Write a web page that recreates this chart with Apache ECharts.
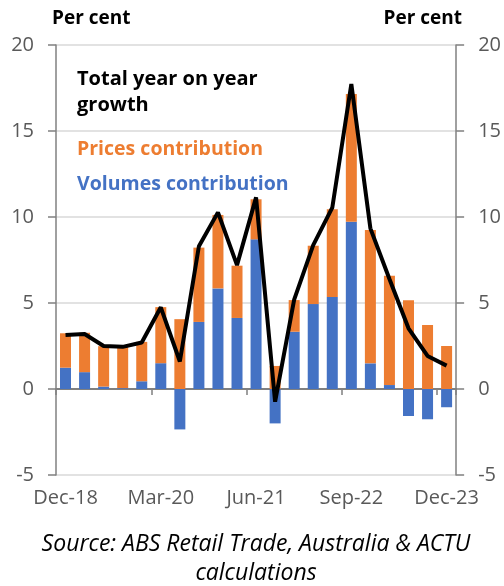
<!DOCTYPE html>
<html>
<head>
<meta charset="utf-8">
<script src="https://cdn.jsdelivr.net/npm/echarts@6/dist/echarts.min.js"></script>
<style>
  html, body { margin: 0; padding: 0; background: #fff; }
  #main { width: 504px; height: 586px; }
</style>
</head>
<body>
<div id="main"></div>
<script>
// quarters Dec-18 .. Dec-23
var quarters = ['Dec-18', 'Mar-19', 'Jun-19', 'Sep-19', 'Dec-19', 'Mar-20', 'Jun-20', 'Sep-20', 'Dec-20', 'Mar-21',
  'Jun-21', 'Sep-21', 'Dec-21', 'Mar-22', 'Jun-22', 'Sep-22', 'Dec-22', 'Mar-23', 'Jun-23', 'Sep-23', 'Dec-23'];
var volumes = [1.24, 0.98, 0.14, 0.05, 0.45, 1.5, -2.35, 3.9, 5.85, 4.13, 8.7, -2.0, 3.33, 4.94, 5.35, 9.73, 1.49, 0.23, -1.57, -1.76, -1.06];
var prices = [2.0, 2.29, 2.35, 2.4, 2.29, 3.26, 4.06, 4.32, 4.27, 3.04, 2.33, 1.34, 1.84, 3.39, 5.1, 7.42, 7.75, 6.36, 5.16, 3.72, 2.5];
var totalGrowth = [3.14, 3.2, 2.5, 2.45, 2.7, 4.75, 1.6, 8.3, 10.27, 7.2, 11.14, -0.74, 5.2, 8.37, 10.54, 17.73, 9.34, 6.4, 3.53, 1.92, 1.36];

var chart = echarts.init(document.getElementById('main'), null, { renderer: 'canvas' });

var font = 'Open Sans, Liberation Sans, sans-serif';
var gray = '#808080';

function yAxis(pos) {
  return {
    type: 'value', position: pos, min: -5, max: 20, interval: 5,
    axisLine: { show: true, lineStyle: { color: gray, width: 1.5 } },
    axisTick: { show: true, length: 8, lineStyle: { color: gray, width: 1.5 } },
    axisLabel: { color: '#595959', fontSize: 20, fontFamily: font, margin: 22 },
    splitLine: { show: pos === 'left', lineStyle: { color: '#d9d9d9', width: 1.5 } }
  };
}

var option = {
  backgroundColor: '#ffffff',
  animation: false,
  grid: { left: 56, right: 47, top: 45, bottom: 111 },
  xAxis: [{
    type: 'category', data: quarters, boundaryGap: true,
    axisLine: { onZero: true, lineStyle: { color: gray, width: 2 } },
    axisTick: { show: true, interval: 4, length: 6, lineStyle: { color: gray, width: 1.5 } },
    axisLabel: { show: false }
  }, {
    type: 'category', data: quarters, boundaryGap: true, position: 'bottom',
    axisLine: { show: false }, axisTick: { show: false },
    axisLabel: { interval: 4, color: '#595959', fontSize: 20, fontFamily: font, margin: 13 }
  }],
  yAxis: [yAxis('left'), yAxis('right')],
  series: [{
    name: 'Volumes contribution', type: 'bar', stack: 'c', data: volumes,
    barWidth: 11, itemStyle: { color: '#4472C4' }
  }, {
    name: 'Prices contribution', type: 'bar', stack: 'c', data: prices,
    barWidth: 11, itemStyle: { color: '#ED7D31' }
  }, {
    name: 'Total year on year growth', type: 'line', data: totalGrowth,
    showSymbol: false, symbol: 'none', z: 5,
    lineStyle: { color: '#000', width: 4 }
  }],
  graphic: [
    { type: 'text', left: 52, top: 9, style: { text: 'Per cent', font: 'bold 19px ' + font, fill: '#000' } },
    { type: 'text', right: 42, top: 9, style: { text: 'Per cent', font: 'bold 19px ' + font, fill: '#000' } },
    { type: 'text', left: 77, top: 66, style: { text: 'Total year on year\ngrowth', font: 'bold 20px ' + font, fill: '#000', lineHeight: 26 } },
    { type: 'text', left: 77, top: 139, style: { text: 'Prices contribution', font: 'bold 19.5px ' + font, fill: '#ED7D31' } },
    { type: 'text', left: 77, top: 174, style: { text: 'Volumes contribution', font: 'bold 19.5px ' + font, fill: '#4472C4' } },
    { type: 'text', x: 256, y: 530, style: { text: 'Source: ABS Retail Trade, Australia & ACTU\ncalculations', font: 'italic 23px ' + font, fill: '#000', align: 'center', lineHeight: 29 } }
  ]
};

chart.setOption(option);
</script>
</body>
</html>
